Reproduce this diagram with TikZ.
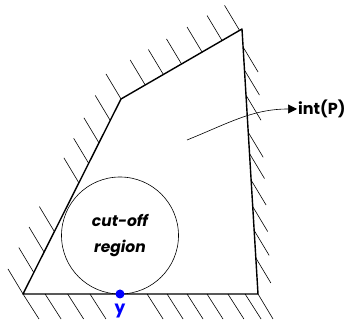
\documentclass[tikz,border=0pt]{standalone}
\usepackage{fontspec}
\setmainfont{Poppins}
\usetikzlibrary{arrows.meta,calc}

\begin{document}
\begin{tikzpicture}[x=1pt, y=1pt, >={Triangle[length=9pt,width=9pt]}]
        \tikzset{edge/.style={line width=1.4pt, line join=round}}
        \tikzset{hatch/.style={line width=0.6pt}}
        \tikzset{lbl/.style={font=\fontsize{16}{18}\selectfont\bfseries, inner sep=1pt}}
        \useasboundingbox (0,0) rectangle (351,323);
        % corners of P
        \coordinate (A) at (23,29);
        \coordinate (B) at (121,224);
        \coordinate (C) at (242,294);
        \coordinate (D) at (258,29);
        % hatching on the outer side
        \foreach \t in {0,0.11,0.215,0.32,0.57,0.67,0.775,0.89,1}
            \draw[hatch] ($(A)!\t!(B)$) -- ++(-15,25);
        \foreach \t in {0.2,0.35,0.5,0.67,0.835,0.98}
            \draw[hatch] ($(B)!\t!(C)$) -- ++(-15,25);
        \foreach \t in {0.068,0.155,0.25,0.39,0.47,0.57,0.67,0.76,0.864,1}
            \draw[hatch] ($(C)!\t!(D)$) -- ++(15,-25);
        \foreach \t in {0,0.094,0.19,0.285,0.528,0.613,0.698,0.783,0.872,0.945}
            \draw[hatch] ($(A)!\t!(D)$) -- ++(16,-25);
        \draw[edge] (A) -- (B) -- (C) -- (D) -- cycle;
        \node[draw, circle, line width=0.6pt, minimum size=117pt, inner sep=0pt, align=center,
              font=\fontsize{15.5}{26}\selectfont\bfseries\itshape] (cut) at (120,87.5) {cut-off\\region};
        \node[circle, fill=blue, minimum size=9pt, inner sep=0pt] (y) at (120,29) {};
        \node[lbl, text=blue, font=\fontsize{17}{19}\selectfont\bfseries] (ylbl) at (120,12) {y};
        \node[lbl, anchor=west] (intP) at (297,214) {int(P)};
        \coordinate (p) at (187,183);
        \draw[->, line width=0.6pt] (p) to[out=22, in=180] (intP.west);
    \end{tikzpicture}
\end{document}
